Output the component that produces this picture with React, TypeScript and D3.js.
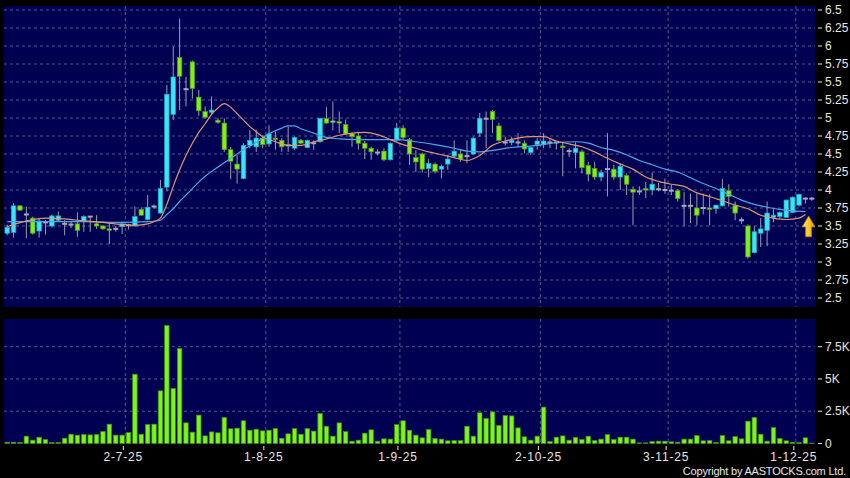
import React, { useEffect } from 'react';
import * as d3 from 'd3';

// daily OHLC (index 0 = early June 2025)
const opens = [
  3.40, 3.41, 3.78, 3.66, 3.61, 3.43, 3.55, 3.50, 3.58, 3.53,
  3.52, 3.53, 3.56, 3.63, 3.53, 3.50, 3.46, 3.46, 3.49, 3.51,
  3.50, 3.73, 3.59, 3.77, 3.68, 4.04, 5.05, 5.84, 5.40, 5.78,
  5.29, 5.09, 5.08, 4.97, 4.93, 4.56, 4.36, 4.16, 4.62, 4.60,
  4.72, 4.64, 4.72, 4.69, 4.62, 4.58, 4.69, 4.59, 4.65, 4.67,
  4.995, 4.95, 4.95, 4.91, 4.78, 4.75, 4.65, 4.58, 4.52, 4.54,
  4.42, 4.69, 4.86, 4.70, 4.45, 4.50, 4.30, 4.36, 4.29, 4.36,
  4.47, 4.50, 4.47, 4.50, 4.79, 4.99, 5.09, 4.89, 4.66, 4.66,
  4.66, 4.65, 4.52, 4.63, 4.63, 4.66, 4.66, 4.61, 4.54, 4.52,
  4.53, 4.34, 4.30, 4.18, 4.29, 4.29, 4.18, 4.20, 4.01, 3.98,
  4.02, 4.00, 4.01, 4.00, 3.99, 3.99, 3.78, 3.78, 3.75, 3.75,
  3.75, 3.74, 3.78, 3.99, 3.78, 3.58, 3.50, 3.13, 3.40, 3.44,
  3.62, 3.63, 3.62, 3.69, 3.79, 3.88, 3.88,
];
const highs = [
  3.52, 3.82, 3.79, 3.77, 3.63, 3.61, 3.58, 3.66, 3.70, 3.58,
  3.56, 3.69, 3.65, 3.64, 3.65, 3.51, 3.545, 3.50, 3.56, 3.53,
  3.77, 3.76, 3.93, 3.80, 4.14, 5.46, 5.99, 6.38, 5.57, 5.80,
  5.39, 5.16, 5.30, 5.00, 4.995, 4.60, 4.49, 4.65, 4.83, 4.84,
  4.76, 4.90, 4.81, 4.72, 4.88, 4.74, 4.71, 4.70, 4.69, 5.00,
  5.15, 5.23, 5.09, 4.98, 4.80, 4.79, 4.68, 4.60, 4.57, 4.58,
  4.66, 4.93, 4.90, 4.72, 4.55, 4.52, 4.43, 4.38, 4.35, 4.49,
  4.69, 4.56, 4.69, 4.74, 5.07, 5.09, 5.11, 4.93, 4.74, 4.74,
  4.79, 4.69, 4.60, 4.72, 4.79, 4.72, 4.67, 4.67, 4.58, 4.66,
  4.56, 4.39, 4.39, 4.28, 4.79, 4.35, 4.37, 4.23, 4.05, 4.05,
  4.11, 4.24, 4.10, 4.16, 4.07, 4.01, 3.97, 3.95, 3.95, 3.95,
  3.94, 3.79, 4.15, 4.08, 3.84, 3.62, 3.52, 3.50, 3.61, 3.84,
  3.73, 3.70, 3.87, 3.91, 3.95, 3.90, 3.90,
];
const lows = [
  3.37, 3.34, 3.71, 3.33, 3.38, 3.34, 3.38, 3.48, 3.56, 3.37,
  3.47, 3.35, 3.42, 3.42, 3.46, 3.45, 3.25, 3.42, 3.39, 3.45,
  3.49, 3.64, 3.58, 3.74, 3.67, 3.98, 4.97, 5.11, 5.16, 5.27,
  5.03, 4.99, 5.05, 4.92, 4.53, 4.15, 4.09, 4.15, 4.58, 4.53,
  4.58, 4.60, 4.56, 4.53, 4.53, 4.56, 4.64, 4.58, 4.56, 4.66,
  4.92, 4.83, 4.79, 4.77, 4.60, 4.56, 4.43, 4.42, 4.48, 4.40,
  4.41, 4.68, 4.70, 4.35, 4.25, 4.24, 4.18, 4.23, 4.16, 4.28,
  4.44, 4.39, 4.37, 4.49, 4.74, 4.58, 4.79, 4.67, 4.62, 4.62,
  4.60, 4.51, 4.49, 4.56, 4.58, 4.58, 4.56, 4.19, 4.46, 4.30,
  4.23, 4.12, 4.14, 4.12, 3.91, 4.14, 4.00, 3.93, 3.51, 3.93,
  3.89, 3.93, 3.98, 3.95, 3.93, 3.84, 3.50, 3.54, 3.51, 3.66,
  3.51, 3.67, 3.77, 3.77, 3.58, 3.53, 3.05, 3.12, 3.21, 3.22,
  3.55, 3.60, 3.61, 3.68, 3.77, 3.81, 3.85,
];
const closes = [
  3.48, 3.78, 3.72, 3.66, 3.40, 3.57, 3.55, 3.64, 3.64, 3.53,
  3.52, 3.44, 3.63, 3.63, 3.50, 3.46, 3.45, 3.46, 3.53, 3.51,
  3.63, 3.65, 3.76, 3.77, 4.02, 5.33, 5.57, 5.58, 5.40, 5.41,
  5.10, 5.01, 5.11, 4.94, 4.56, 4.40, 4.29, 4.62, 4.69, 4.72,
  4.63, 4.78, 4.70, 4.60, 4.63, 4.73, 4.65, 4.69, 4.65, 4.995,
  4.93, 4.95, 4.94, 4.78, 4.74, 4.65, 4.58, 4.53, 4.52, 4.42,
  4.65, 4.86, 4.73, 4.50, 4.39, 4.29, 4.37, 4.26, 4.33, 4.43,
  4.54, 4.43, 4.47, 4.72, 4.995, 4.99, 4.98, 4.69, 4.66, 4.69,
  4.66, 4.57, 4.59, 4.68, 4.68, 4.66, 4.66, 4.60, 4.54, 4.58,
  4.31, 4.22, 4.18, 4.24, 4.29, 4.18, 4.33, 4.08, 3.97, 3.98,
  4.00, 4.08, 4.01, 4.00, 3.99, 3.88, 3.78, 3.78, 3.65, 3.75,
  3.74, 3.79, 4.02, 3.91, 3.68, 3.58, 3.07, 3.42, 3.46, 3.68,
  3.65, 3.69, 3.86, 3.90, 3.94, 3.88, 3.88,
];
// volume, thousands
const volumes = [
  0.10, 0.10, 0.08, 0.57, 0.26, 0.49, 0.31, 0.08, 0.08, 0.41,
  0.72, 0.65, 0.70, 0.67, 0.70, 0.93, 1.50, 0.65, 0.65, 0.85,
  5.37, 0.72, 1.47, 1.50, 4.08, 9.15, 4.26, 7.36, 1.60, 0.88,
  2.20, 0.59, 0.90, 0.83, 2.02, 1.14, 1.19, 1.76, 1.03, 1.11,
  0.98, 1.03, 1.16, 0.40, 0.75, 1.16, 0.72, 1.16, 0.96, 2.33,
  1.34, 0.57, 1.60, 0.93, 0.18, 0.26, 0.80, 1.06, 0.18, 0.36,
  0.34, 1.47, 1.76, 1.03, 0.65, 0.44, 1.09, 0.39, 0.34, 0.21,
  0.23, 0.23, 1.34, 0.57, 2.38, 1.94, 2.45, 1.40, 2.17, 2.14,
  1.21, 0.52, 0.26, 0.57, 2.82, 0.16, 0.49, 0.59, 0.26, 0.48,
  0.31, 0.57, 0.23, 0.34, 0.70, 0.31, 0.49, 0.49, 0.34, 0.05,
  0.05, 0.16, 0.18, 0.18, 0.13, 0.10, 0.34, 0.34, 0.62, 0.21,
  0.23, 0.08, 0.62, 0.21, 0.54, 0.36, 1.73, 2.02, 0.72, 0.18,
  1.24, 0.39, 0.21, 0.10, 0.08, 0.44, 0.03,
];

// moving averages read at sample candles
const maShortIdx = [0, 3, 6, 9, 12, 15, 18, 20, 22, 23, 24, 25, 26, 27, 28, 29, 30, 31, 32, 33, 34, 35, 36, 37, 38, 39, 40, 42, 44, 46, 48, 50, 52, 54, 56, 58, 60, 62, 64, 66, 68, 70, 72, 74, 76, 78, 80, 82, 84, 86, 88, 90, 92, 94, 96, 98, 100, 102, 104, 106, 108, 110, 112, 114, 116, 118, 120, 122, 124, 125];
const maShortVal = [3.49, 3.57, 3.61, 3.60, 3.57, 3.55, 3.52, 3.51, 3.53, 3.56, 3.61, 3.80, 4.05, 4.28, 4.48, 4.65, 4.80, 4.92, 5.05, 5.14, 5.20, 5.15, 5.06, 4.97, 4.88, 4.81, 4.74, 4.67, 4.62, 4.62, 4.67, 4.71, 4.76, 4.79, 4.80, 4.77, 4.70, 4.63, 4.58, 4.53, 4.49, 4.45, 4.41, 4.48, 4.62, 4.68, 4.72, 4.74, 4.74, 4.68, 4.64, 4.60, 4.53, 4.44, 4.36, 4.29, 4.18, 4.12, 4.08, 4.05, 3.96, 3.91, 3.85, 3.79, 3.74, 3.65, 3.61, 3.59, 3.61, 3.66];
const maLongIdx = [0, 6, 12, 18, 22, 24, 25, 26, 27, 28, 29, 30, 31, 33, 35, 37, 39, 41, 43, 44, 45, 46, 48, 50, 52, 55, 58, 61, 64, 67, 70, 72, 74, 76, 79, 82, 84, 86, 89, 91, 93, 95, 97, 99, 101, 103, 105, 107, 109, 111, 113, 115, 117, 119, 121, 123, 125];
const maLongVal = [3.56, 3.56, 3.56, 3.55, 3.56, 3.58, 3.66, 3.74, 3.84, 3.93, 4.02, 4.11, 4.19, 4.32, 4.44, 4.56, 4.66, 4.78, 4.86, 4.89, 4.89, 4.85, 4.79, 4.73, 4.71, 4.70, 4.70, 4.70, 4.67, 4.63, 4.58, 4.54, 4.53, 4.55, 4.59, 4.61, 4.63, 4.66, 4.67, 4.65, 4.59, 4.55, 4.49, 4.41, 4.35, 4.29, 4.25, 4.17, 4.09, 4.02, 3.94, 3.86, 3.80, 3.76, 3.73, 3.71, 3.70];

const dateTickIdx = [19, 41, 62, 84, 104, 124];
const dateTickLabels = ['2-7-25', '1-8-25', '1-9-25', '2-10-25', '3-11-25', '1-12-25'];
const priceTicks = [2.5, 2.75, 3, 3.25, 3.5, 3.75, 4, 4.25, 4.5, 4.75, 5, 5.25, 5.5, 5.75, 6, 6.25, 6.5];
const volTicks = [0, 2.5, 5, 7.5];

const W = 850;
const H = 478;
const panelX0 = 4;
const panelX1 = 815;
const priceTop = 6;
const priceBottom = 307;
const volTop = 319;
const volBottom = 444;

const UP = '#3ae6f6';
const UP_EDGE = '#1aa9c2';
const DOWN = '#84ec1e';
const DOWN_EDGE = '#4c9c12';
const WICK = '#9c9cb0';
const GRID = '#56568e';
const TEXT = '#e6e6e6';
const FONT = '"Liberation Sans", Arial, sans-serif';

export default function App() {
  useEffect(() => {
    document.body.style.margin = '0';
    document.body.style.background = '#000';
  }, []);

  const idx = d3.range(opens.length);
  const x = d3.scaleBand<number>().domain(idx).range([panelX0, panelX1]);
  const step = x.step();
  const cx = (i: number) => (x(i) || 0) + step / 2;
  const bodyW = 5;

  const y = d3.scaleLinear().domain([2.5, 6.5]).range([298, 10]);
  const yv = d3.scaleLinear().domain([0, 7.5]).range([443.5, 346.7]);

  const shortLine = d3.line<number>()
    .x((d) => cx(maShortIdx[d]))
    .y((d) => y(maShortVal[d]))
    .curve(d3.curveMonotoneX);
  const longLine = d3.line<number>()
    .x((d) => cx(maLongIdx[d]))
    .y((d) => y(maLongVal[d]))
    .curve(d3.curveMonotoneX);

  // yellow arrow pointing at the latest bar
  const ax = x(opens.length - 1) || 0;
  const tipY = y(3.64);
  const baseY = y(3.35);
  const headY = tipY + 11;
  const arrowPath = `M${ax},${tipY} L${ax + 6.5},${headY} L${ax + 3},${headY} L${ax + 3},${baseY} L${ax - 3},${baseY} L${ax - 3},${headY} L${ax - 6.5},${headY} Z`;

  return (
    <div style={{ position: 'absolute', left: 0, top: 0 }}>
      <svg width={W} height={H} style={{ display: 'block', background: '#000' }}>
        <defs>
          <linearGradient id="arrowFill" x1="0" x2="1" y1="0" y2="0">
            <stop offset="0%" stopColor="#ffe97a" />
            <stop offset="60%" stopColor="#f7c21c" />
            <stop offset="100%" stopColor="#d98e00" />
          </linearGradient>
          <clipPath id="priceClip">
            <rect x={panelX0} y={priceTop} width={panelX1 - panelX0} height={priceBottom - priceTop} />
          </clipPath>
        </defs>

        {/* panels */}
        <rect x={panelX0} y={priceTop} width={panelX1 - panelX0} height={priceBottom - priceTop} fill="#000052" />
        <rect x={panelX0} y={volTop} width={panelX1 - panelX0} height={volBottom - volTop} fill="#000052" />

        {/* grid */}
        {priceTicks.map((t) => (
          <line key={'pg' + t} x1={panelX0} x2={panelX1} y1={y(t)} y2={y(t)} stroke={GRID} strokeDasharray="3,3" />
        ))}
        {volTicks.filter((t) => t > 0).map((t) => (
          <line key={'vg' + t} x1={panelX0} x2={panelX1} y1={yv(t)} y2={yv(t)} stroke={GRID} strokeDasharray="3,3" />
        ))}
        {dateTickIdx.map((d) => (
          <g key={'dg' + d}>
            <line x1={x(d)} x2={x(d)} y1={priceTop} y2={priceBottom} stroke={GRID} strokeDasharray="3,3" />
            <line x1={x(d)} x2={x(d)} y1={volTop} y2={volBottom} stroke={GRID} strokeDasharray="3,3" />
          </g>
        ))}

        {/* candles */}
        <g clipPath="url(#priceClip)">
          {idx.map((i) => {
            const o = opens[i];
            const c = closes[i];
            const doji = Math.abs(c - o) < 0.005;
            const up = c > o;
            const top = y(Math.max(o, c));
            const bot = y(Math.min(o, c));
            return (
              <g key={'c' + i}>
                <line x1={cx(i)} x2={cx(i)} y1={y(highs[i])} y2={y(lows[i])} stroke={WICK} strokeWidth={1} />
                {doji ? (
                  <rect x={cx(i) - bodyW / 2} y={top - 1} width={bodyW} height={2} fill="#a8a8bc" />
                ) : (
                  <rect
                    x={cx(i) - bodyW / 2 + 0.25}
                    y={top}
                    width={bodyW - 0.5}
                    height={Math.max(1.5, bot - top)}
                    fill={up ? UP : DOWN}
                    stroke={up ? UP_EDGE : DOWN_EDGE}
                    strokeWidth={0.7}
                  />
                )}
              </g>
            );
          })}
          <path d={longLine(d3.range(maLongIdx.length)) || ''} fill="none" stroke="#4aa8ea" strokeWidth={1.2} />
          <path d={shortLine(d3.range(maShortIdx.length)) || ''} fill="none" stroke="#e29470" strokeWidth={1.2} />
          <path d={arrowPath} fill="url(#arrowFill)" stroke="#b87400" strokeWidth={0.8} />
        </g>

        {/* volume bars */}
        {idx.map((i) => (
          <rect
            key={'v' + i}
            x={cx(i) - bodyW / 2 + 0.25}
            y={yv(volumes[i])}
            width={bodyW - 0.5}
            height={Math.max(0.5, yv(0) - yv(volumes[i]))}
            fill="#7df31c"
            stroke="#3f8c0c"
            strokeWidth={0.7}
          />
        ))}

        {/* right axis labels */}
        {priceTicks.map((t) => (
          <g key={'pl' + t}>
            <line x1={818} x2={822} y1={y(t)} y2={y(t)} stroke={TEXT} />
            <text x={825} y={y(t)} dy="0.35em" fill={TEXT} fontSize={12} fontFamily={FONT}>
              {String(t)}
            </text>
          </g>
        ))}
        {volTicks.map((t) => (
          <g key={'vl' + t}>
            <line x1={818} x2={822} y1={yv(t)} y2={yv(t)} stroke={TEXT} />
            <text x={825} y={yv(t)} dy="0.35em" fill={TEXT} fontSize={12} fontFamily={FONT}>
              {t === 0 ? '0' : `${t}K`}
            </text>
          </g>
        ))}

        {/* date axis */}
        {dateTickIdx.map((d, k) => (
          <g key={'dl' + d}>
            <line x1={(x(d) || 0) - 2} x2={(x(d) || 0) - 2} y1={446} y2={450} stroke={TEXT} />
            <text
              x={(x(d) || 0) - 2}
              y={461}
              textAnchor="middle"
              fill={TEXT}
              fontSize={12}
              letterSpacing={0.8}
              fontFamily={FONT}
            >
              {dateTickLabels[k]}
            </text>
          </g>
        ))}

        <text x={846} y={475} textAnchor="end" fill={TEXT} fontSize={11} letterSpacing={-0.2} fontFamily={FONT}>
          Copyright by AASTOCKS.com Ltd.
        </text>
      </svg>
    </div>
  );
}
